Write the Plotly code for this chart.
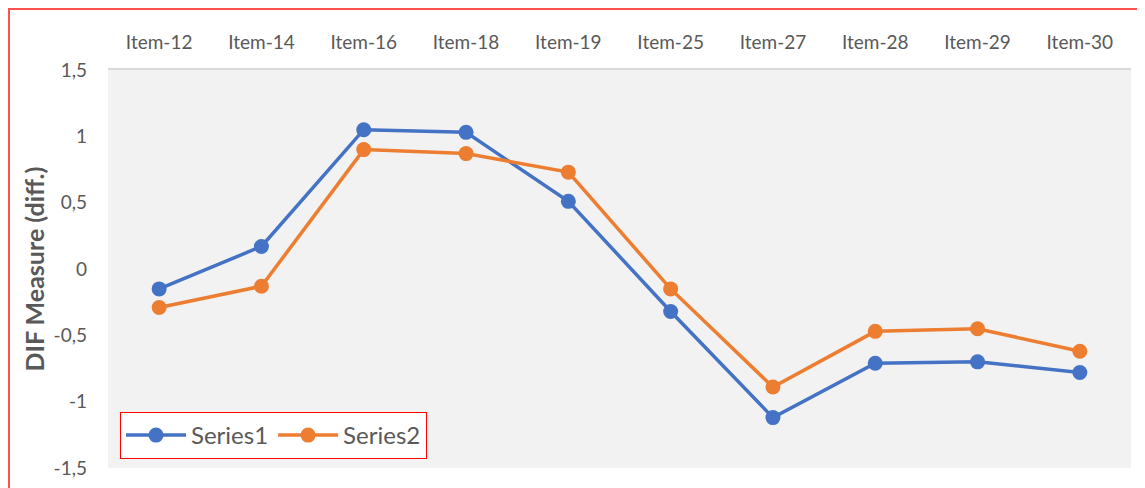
import plotly.graph_objects as go

categories = ["Item-12", "Item-14", "Item-16", "Item-18", "Item-19",
              "Item-25", "Item-27", "Item-28", "Item-29", "Item-30"]
series1 = [-0.15, 0.17, 1.05, 1.03, 0.51, -0.32, -1.12, -0.71, -0.70, -0.78]
series2 = [-0.29, -0.13, 0.90, 0.87, 0.73, -0.15, -0.89, -0.47, -0.45, -0.62]
y_tickvals = [-1.5, -1, -0.5, 0, 0.5, 1, 1.5]
y_ticktext = ["-1,5", "-1", "-0,5", "0", "0,5", "1", "1,5"]
y_title = "DIF Measure (diff.)"

FONT = "Lato, Carlito, Calibri, 'Open Sans', sans-serif"
GRAY = "#595959"

fig = go.Figure()
fig.add_trace(go.Scatter(x=categories, y=series1, name="Series1", mode="lines+markers",
                         line=dict(color="#4472C4", width=3.5),
                         marker=dict(size=15, color="#4472C4")))
fig.add_trace(go.Scatter(x=categories, y=series2, name="Series2", mode="lines+markers",
                         line=dict(color="#ED7D31", width=3.5),
                         marker=dict(size=15, color="#ED7D31")))

# page has an 8px body margin; work in page pixel coordinates
OFF = 8
W, H = 1145 - OFF, 488 - OFF
L, R, T, B = 108 - OFF, 14, 70 - OFF, 20
pw, ph = W - L - R, H - T - B

def px_x(x):
    return (x - OFF - L) / pw

def px_y(y):
    return (H - B - (y - OFF)) / ph

fig.update_layout(
    width=W, height=H,
    margin=dict(l=L, r=R, t=T, b=B, autoexpand=False),
    paper_bgcolor="white",
    plot_bgcolor="#F2F2F2",
    font=dict(family=FONT, color=GRAY, size=19),
    showlegend=True,
    legend=dict(
        x=px_x(120), y=px_y(412), xanchor="left", yanchor="top",
        orientation="h", bgcolor="white", bordercolor="#FF0000", borderwidth=1,
        font=dict(size=24, color=GRAY, family=FONT),
        itemwidth=60,
    ),
    xaxis=dict(
        type="category", side="top", showgrid=False, zeroline=False,
        showline=True, linecolor="#D9D9D9", linewidth=1.5,
        ticks="", tickfont=dict(size=19, color=GRAY),
        range=[-0.5, len(categories) - 0.5], automargin=False,
        ticklabelstandoff=12,
    ),
    yaxis=dict(
        range=[-1.5, 1.5], tickvals=y_tickvals, ticktext=y_ticktext,
        showgrid=False, zeroline=False, showline=False, ticks="",
        tickfont=dict(size=19, color=GRAY), automargin=False,
        ticklabelstandoff=20,
    ),
    annotations=[dict(text="<b>" + y_title + "</b>", xref="paper", yref="paper",
                      x=px_x(33), y=px_y(269.5), xanchor="center", yanchor="middle",
                      textangle=-90, showarrow=False,
                      font=dict(size=25, color=GRAY, family=FONT))],
    shapes=[dict(type="rect", xref="paper", yref="paper",
                 x0=px_x(9), x1=px_x(1160), y0=px_y(500), y1=px_y(9),
                 line=dict(color="#FF5050", width=2), fillcolor="rgba(0,0,0,0)", layer="above")],
)

fig.write_html("out.html")
